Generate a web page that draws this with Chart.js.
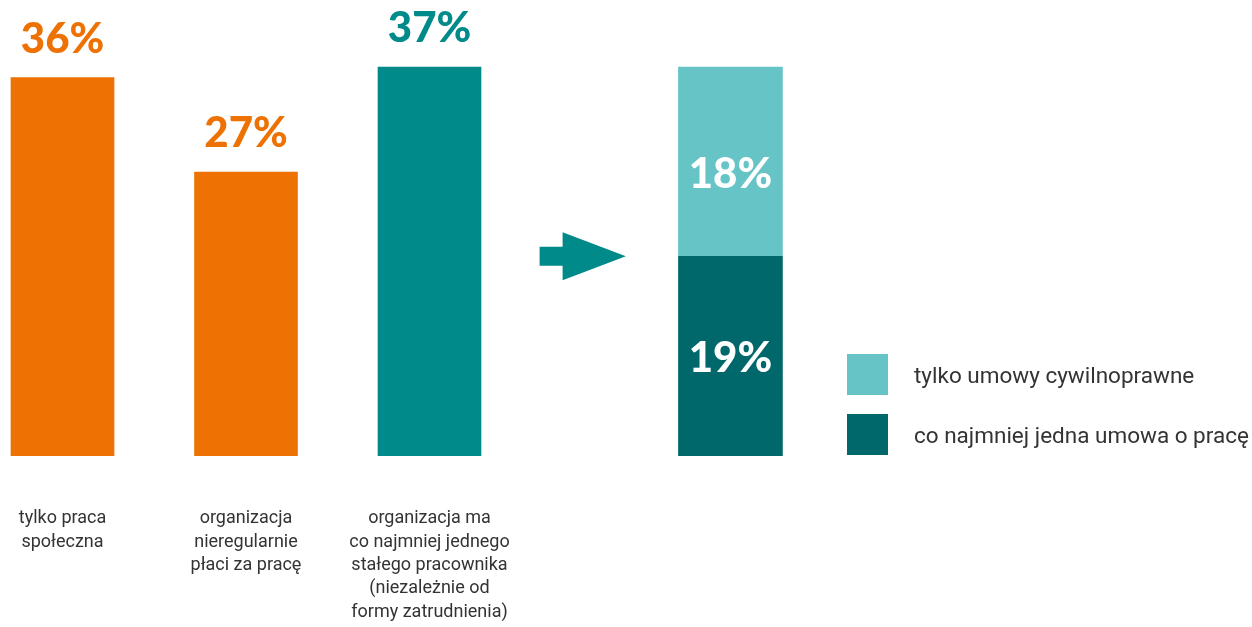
<!DOCTYPE html>
<html lang="pl">
<head>
<meta charset="utf-8">
<script src="https://cdn.jsdelivr.net/npm/chart.js@4"></script>
<style>
  html, body { margin: 0; padding: 0; background: #fff; overflow: hidden; }
  #wrap { position: relative; width: 1252px; height: 627px; }
  #legend { position: absolute; left: 847px; top: 354px; font-family: Roboto, sans-serif; font-size: 22.5px; color: #333; white-space: nowrap; }
  #legend .item { display: flex; align-items: center; height: 41px; margin-bottom: 19px; }
  #legend .sw { width: 41px; height: 41px; margin-right: 26px; flex: none; }
</style>
</head>
<body>
<div id="wrap">
  <canvas id="c" width="1252" height="627"></canvas>
  <div id="legend"></div>
</div>
<script>
/* ---------- data ---------- */
const categories = [
  ["tylko praca", "społeczna"],
  ["organizacja", "nieregularnie", "płaci za pracę"],
  ["organizacja ma", "co najmniej jednego", "stałego pracownika", "(niezależnie od", "formy zatrudnienia)"],
];
const shares = [36, 27, 37];
const splitLabels = ["co najmniej jedna umowa o pracę", "tylko umowy cywilnoprawne"]; // bottom → top
const splitValues = [19, 18];

/* ---------- layout / style ---------- */
const barPos = [0, 1, 2];
const splitPos = 3.64;
const arrowFrom = 2.6, arrowTo = 3.07;
const barColors = ["#EE7203", "#EE7203", "#008A89"];
const splitColors = ["#00686A", "#66C3C6"];
const labelFont = "Roboto, sans-serif";
const numFont = "Lato, 'Open Sans', sans-serif";

/* ---------- plugins ---------- */
const valueLabels = {
  id: "valueLabels",
  afterDatasetsDraw(chart) {
    const ctx = chart.ctx;
    ctx.save();
    ctx.font = `900 42px ${numFont}`;
    ctx.textAlign = "center";
    ctx.textBaseline = "alphabetic";
    chart.getDatasetMeta(0).data.forEach((bar, i) => {
      ctx.fillStyle = barColors[i];
      ctx.fillText(`${shares[i]}%`, bar.x, bar.y - 25);
    });
    const nudge = [16, 26];
    [1, 2].forEach((d, k) => {
      const bar = chart.getDatasetMeta(d).data[0];
      ctx.fillStyle = "#fff";
      ctx.fillText(`${splitValues[k]}%`, bar.x, (bar.y + bar.base) / 2 + nudge[k]);
    });
    ctx.restore();
  },
};

const arrow = {
  id: "arrow",
  afterDatasetsDraw(chart) {
    const { ctx, scales: { x, y } } = chart;
    const x0 = x.getPixelForValue(arrowFrom), x1 = x.getPixelForValue(arrowTo);
    const cy = y.getPixelForValue(splitValues[0]);
    const shaftEnd = x0 + 23;
    ctx.save();
    ctx.fillStyle = "#008A89";
    ctx.beginPath();
    ctx.moveTo(x0, cy - 9.5);
    ctx.lineTo(shaftEnd, cy - 9.5);
    ctx.lineTo(shaftEnd, cy - 24);
    ctx.lineTo(x1, cy);
    ctx.lineTo(shaftEnd, cy + 24);
    ctx.lineTo(shaftEnd, cy + 9.5);
    ctx.lineTo(x0, cy + 9.5);
    ctx.closePath();
    ctx.fill();
    ctx.restore();
  },
};

/* ---------- chart ---------- */
const W = 1252, unit = 183.5, firstCenter = 62.5;
new Chart(document.getElementById("c"), {
  type: "bar",
  data: {
    datasets: [
      {
        label: "udział",
        data: shares.map((v, i) => ({ x: barPos[i], y: v })),
        backgroundColor: barColors,
        barThickness: 103,
      },
      ...splitValues.map((v, k) => ({
        label: splitLabels[k],
        data: [{ x: splitPos, y: v }],
        backgroundColor: splitColors[k],
        barThickness: 104,
      })),
    ],
  },
  options: {
    responsive: false,
    animation: false,
    layout: { padding: { top: 35.5, left: 0, right: 0, bottom: 0 } },
    plugins: { legend: { display: false }, tooltip: { enabled: false } },
    scales: {
      x: {
        type: "linear",
        stacked: true,
        offset: false,
        min: -firstCenter / unit,
        max: (W - firstCenter) / unit,
        grid: { display: false },
        border: { display: false },
        afterBuildTicks: (s) => { s.ticks = barPos.map((v) => ({ value: v })); },
        afterFit: (s) => {
          // labels sit well inside the plot, no edge padding needed
          s.paddingLeft = 0;
          s.paddingRight = 0;
          s.height = 171;
        },
        ticks: {
          autoSkip: false,
          maxRotation: 0,
          padding: 43,
          color: "#333",
          font: { family: labelFont, size: 18, lineHeight: 1.3 },
          callback: (v) => categories[barPos.indexOf(v)] ?? "",
        },
      },
      y: { display: false, stacked: true, min: 0, max: 40 },
    },
  },
  plugins: [valueLabels, arrow],
});

/* ---------- legend ---------- */
const legend = document.getElementById("legend");
[1, 0].forEach((k) => {
  const item = document.createElement("div");
  item.className = "item";
  item.innerHTML = `<span class="sw" style="background:${splitColors[k]}"></span><span>${splitLabels[k]}</span>`;
  legend.appendChild(item);
});
</script>
</body>
</html>
